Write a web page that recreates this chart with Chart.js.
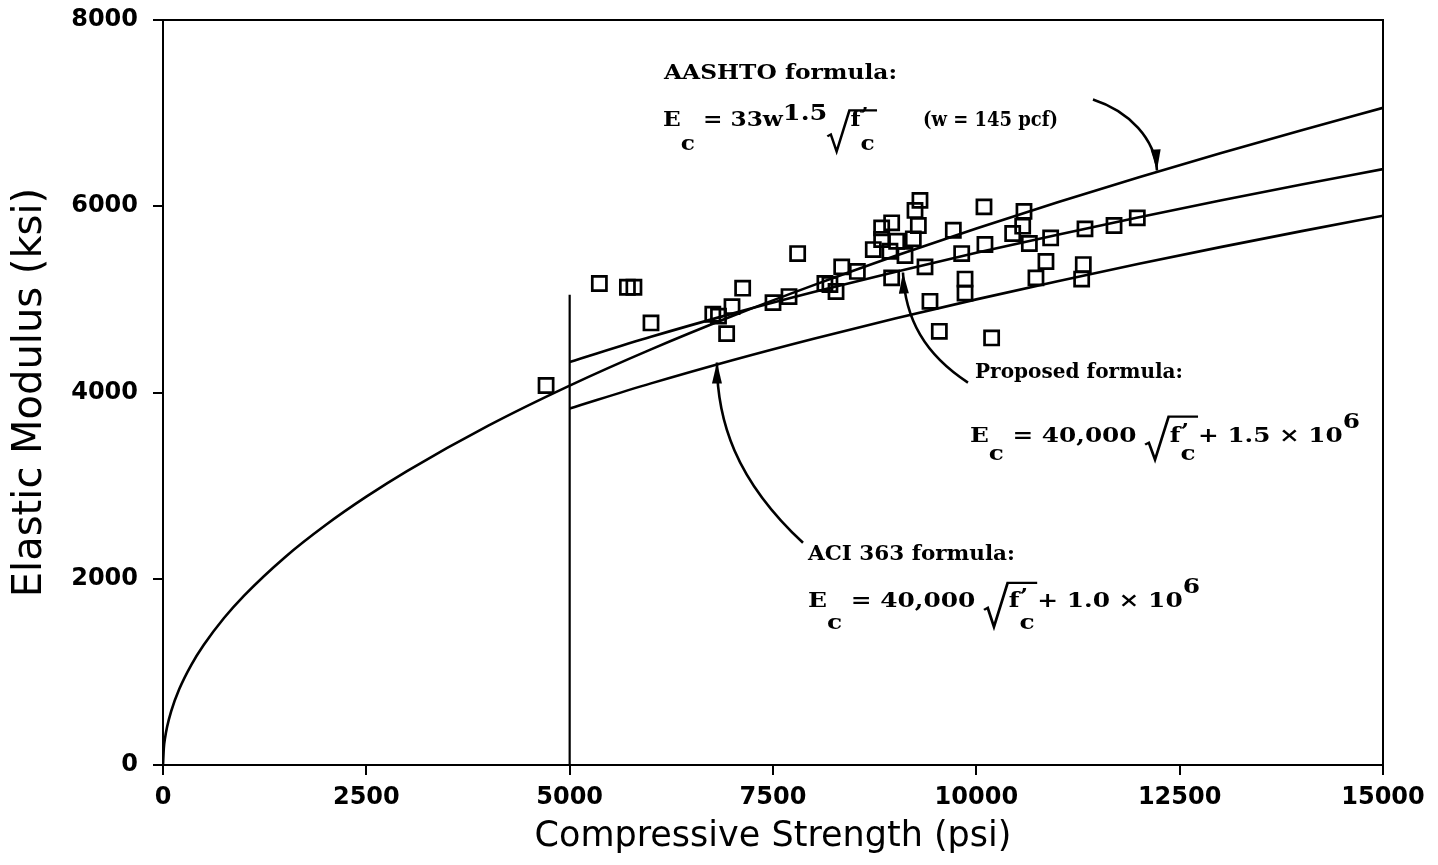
<!DOCTYPE html>
<html><head><meta charset="utf-8">
<script src="https://cdn.jsdelivr.net/npm/chart.js@4.4.0/dist/chart.umd.min.js"></script>
<style>html,body{margin:0;padding:0;background:#fff;} #wrap{width:1438px;height:865px;}</style>
</head><body><div id="wrap"><canvas id="c" width="1438" height="865"></canvas></div>
<script>
// ---- data ----
const xTickValues = [0, 2500, 5000, 7500, 10000, 12500, 15000];
const yTickValues = [0, 2000, 4000, 6000, 8000];

const testStrength = [4710, 5365, 5710, 5790, 6000, 6760, 6830, 6930, 6996, 7127, 7500, 7697, 7803, 8138, 8200, 8275, 8345, 8537, 8733, 8836, 8836, 8959, 9020, 8938, 9123, 9307, 9246, 9287, 9225, 8959, 9369, 9430, 9545, 9717, 10094, 9820, 9861, 9861, 10106, 10188, 10586, 10570, 10447, 10652, 10914, 10856, 10733, 11336, 11315, 11295, 11693, 11979];
const testModulus  = [4075, 5170, 5130, 5130, 4747, 4840, 4820, 4632, 4922, 5120, 4965, 5030, 5492, 5170, 5160, 5085, 5349, 5300, 5535, 5767, 5643, 5822, 5624, 5517, 5471, 6063, 5955, 5793, 5650, 5231, 5349, 4979, 4657, 5742, 5993, 5492, 5218, 5067, 5589, 4586, 5945, 5786, 5707, 5600, 5660, 5407, 5231, 5757, 5374, 5218, 5793, 5875];

const aashtoX = [0, 10, 25, 50, 100, 200, 350, 500, 750, 1000, 1500, 2000, 2500, 3000, 4000, 5000, 6000, 7000, 8000, 9000, 10000, 11000, 12000, 13000, 14000, 15000];
const aashtoY = [0, 182, 288, 407, 576, 815, 1078, 1288, 1578, 1822, 2232, 2577, 2881, 3156, 3644, 4074, 4463, 4821, 5153, 5466, 5762, 6043, 6312, 6569, 6817, 7057];

const proposedX = [5000, 6000, 7000, 8000, 9000, 10000, 11000, 12000, 13000, 14000, 15000];
const proposedY = [4328, 4598, 4847, 5078, 5295, 5500, 5695, 5882, 6061, 6233, 6399];

const aciX = [5000, 6000, 7000, 8000, 9000, 10000, 11000, 12000, 13000, 14000, 15000];
const aciY = [3828, 4098, 4347, 4578, 4795, 5000, 5195, 5382, 5561, 5733, 5899];

const limitX = [5000, 5000];
const limitY = [0, 5050];

const xTitle = 'Compressive Strength (psi)';
const yTitle = 'Elastic Modulus (ksi)';

// ---- helpers ----
const pts = (xs, ys) => xs.map((x, i) => ({x, y: ys[i]}));

const SERIF = '"DejaVu Serif", serif';
const F = 'bold 20px ' + SERIF;

function segWidth(ctx, segs) {
  let w = 0;
  for (const s of segs) {
    if (s.rad) { w += 19 + segWidth(ctx, s.inner) + 3; continue; }
    ctx.font = s.f || F;
    const ww = ctx.measureText(s.t).width;
    if (s.adv !== false) w += ww;
  }
  return w;
}
function drawSegs(ctx, segs, x) {
  for (const s of segs) {
    if (s.rad) {
      const iw = segWidth(ctx, s.inner);
      ctx.beginPath();
      ctx.lineWidth = 2.2;
      ctx.moveTo(x, s.tick); ctx.lineTo(x + 3, s.tick - 2);
      ctx.lineTo(x + 8, s.bot); ctx.lineTo(x + 19, s.top);
      ctx.lineTo(x + 19 + iw + 3, s.top);
      ctx.stroke();
      drawSegs(ctx, s.inner, x + 20);
      x += 19 + iw + 3;
      continue;
    }
    ctx.font = s.f || F;
    ctx.fillText(s.t, x, s.dy || 0);
    if (s.adv !== false) x += ctx.measureText(s.t).width;
  }
  return x;
}
function drawFitted(ctx, segs, px, py, targetW) {
  const w = segWidth(ctx, segs);
  ctx.save();
  ctx.translate(px, py);
  ctx.scale(targetW / w, 1);
  ctx.textBaseline = 'alphabetic';
  ctx.textAlign = 'left';
  ctx.fillStyle = '#000';
  ctx.strokeStyle = '#000';
  drawSegs(ctx, segs, 0);
  ctx.restore();
}

const fprime = (sub) => [{t: 'f'}, {t: '\u2019', dy: -4, adv: false}, {t: 'c', dy: sub}];

const notes = [
  {x: 6160, y: 7362, w: 233, segs: [{t: 'AASHTO formula:'}]},
  {x: 6148, y: 6857, w: 214, segs: [{t: 'E'}, {t: 'c', dy: 24}, {t: ' = 33w'}, {t: '1.5', f: 'bold 22px ' + SERIF, dy: -6},
     {rad: true, tick: 10, bot: 25, top: -16, inner: fprime(24)}]},
  {x: 9344, y: 6857, w: 135, segs: [{t: '(w = 145 pcf)', f: 'bold 21px ' + SERIF}]},
  {x: 9984, y: 4159, w: 208, segs: [{t: 'Proposed formula:'}]},
  {x: 9922, y: 3472, w: 390, segs: [{t: 'E'}, {t: 'c', dy: 18}, {t: ' = 40,000 '},
     {rad: true, tick: 3, bot: 18, top: -25, inner: fprime(18)}, {t: '+ 1.5 \u00d7 10'}, {t: '6', dy: -14}]},
  {x: 7930, y: 2203, w: 207, segs: [{t: 'ACI 363 formula:'}]},
  {x: 7930, y: 1698, w: 392, segs: [{t: 'E'}, {t: 'c', dy: 22}, {t: ' = 40,000 '},
     {rad: true, tick: 3, bot: 20, top: -24, inner: fprime(22)}, {t: '+ 1.0 \u00d7 10'}, {t: '6', dy: -14}]}
];

const arrows = [
  [[11434, 7147], [11889, 7018], [12197, 6718], [12221, 6384]],
  [[9897, 4106], [9369, 4407], [9123, 4783], [9098, 5288]],
  [[7869, 2386], [7033, 3063], [6811, 3708], [6811, 4321]]
];

const annotPlugin = {
  id: 'annot',
  afterDatasetsDraw(chart) {
    const {ctx, chartArea: a, scales: {x, y}} = chart;
    ctx.save();
    ctx.strokeStyle = '#000';
    ctx.lineWidth = 2;
    ctx.beginPath();
    ctx.moveTo(a.left, a.top); ctx.lineTo(a.right, a.top); ctx.lineTo(a.right, a.bottom);
    ctx.stroke();
    for (const ar of arrows) {
      const p = ar.map(([dx, dy]) => [x.getPixelForValue(dx), y.getPixelForValue(dy)]);
      ctx.lineWidth = 2.6;
      ctx.beginPath();
      ctx.moveTo(p[0][0], p[0][1]);
      ctx.bezierCurveTo(p[1][0], p[1][1], p[2][0], p[2][1], p[3][0], p[3][1]);
      ctx.stroke();
      const ang = Math.atan2(p[3][1] - p[2][1], p[3][0] - p[2][0]);
      const L = 21, W = 5;
      const bx = p[3][0] - L * Math.cos(ang), by = p[3][1] - L * Math.sin(ang);
      ctx.beginPath();
      ctx.moveTo(p[3][0], p[3][1]);
      ctx.lineTo(bx + W * Math.sin(ang), by - W * Math.cos(ang));
      ctx.lineTo(bx - W * Math.sin(ang), by + W * Math.cos(ang));
      ctx.closePath();
      ctx.fillStyle = '#000';
      ctx.fill();
    }
    ctx.restore();
    for (const n of notes) {
      drawFitted(ctx, n.segs, x.getPixelForValue(n.x), y.getPixelForValue(n.y), n.w);
    }
  }
};

const lineDs = (data, w, extra) => Object.assign({
  data, showLine: true, borderColor: '#000', borderWidth: w, pointRadius: 0,
  pointHoverRadius: 0, fill: false, tension: 0
}, extra || {});

new Chart(document.getElementById('c'), {
  type: 'scatter',
  data: {
    datasets: [
      lineDs(pts(aashtoX, aashtoY), 2.6, {cubicInterpolationMode: 'monotone', label: 'AASHTO'}),
      lineDs(pts(proposedX, proposedY), 2.6, {cubicInterpolationMode: 'monotone', label: 'Proposed'}),
      lineDs(pts(aciX, aciY), 2.6, {cubicInterpolationMode: 'monotone', label: 'ACI 363'}),
      lineDs(pts(limitX, limitY), 2.2, {label: 'limit'}),
      {
        label: 'Test data',
        data: pts(testStrength, testModulus),
        pointStyle: 'rect', pointRadius: 10, pointHoverRadius: 10,
        borderColor: '#000', backgroundColor: 'rgba(0,0,0,0)', borderWidth: 2.7, showLine: false
      }
    ]
  },
  options: {
    responsive: false,
    devicePixelRatio: 1,
    animation: false,
    layout: {padding: {top: 20, right: 55, left: 0, bottom: 0}},
    plugins: {legend: {display: false}, tooltip: {enabled: false}},
    scales: {
      x: {
        type: 'linear', min: 0, max: 15000,
        afterBuildTicks: s => { s.ticks = xTickValues.map(v => ({value: v})); },
        afterFit: s => { s.height = 100; },
        ticks: {color: '#000', padding: 8, maxRotation: 0, callback: v => String(v),
                font: {family: '"DejaVu Sans"', size: 24, weight: 'bold'}},
        grid: {drawOnChartArea: false, drawTicks: true, tickLength: 10, color: '#000', lineWidth: 2},
        border: {display: true, color: '#000', width: 2},
        title: {display: true, text: xTitle, color: '#000', padding: {bottom: 7, top: 0},
                font: {family: '"DejaVu Sans"', size: 35, weight: 'normal'}}
      },
      y: {
        type: 'linear', min: 0, max: 8000,
        afterBuildTicks: s => { s.ticks = yTickValues.map(v => ({value: v})); },
        afterFit: s => { s.width = 163; s.paddingTop = 4; s.paddingBottom = 4; },
        ticks: {color: '#000', padding: 15, callback: v => String(v),
                font: {family: '"DejaVu Sans"', size: 24, weight: 'bold'}},
        grid: {drawOnChartArea: false, drawTicks: true, tickLength: 10, color: '#000', lineWidth: 2},
        border: {display: true, color: '#000', width: 2},
        title: {display: true, text: yTitle, color: '#000', padding: {top: 7, bottom: 0},
                font: {family: '"DejaVu Sans"', size: 40, weight: 'normal'}}
      }
    }
  },
  plugins: [annotPlugin]
});
</script>
</body></html>
